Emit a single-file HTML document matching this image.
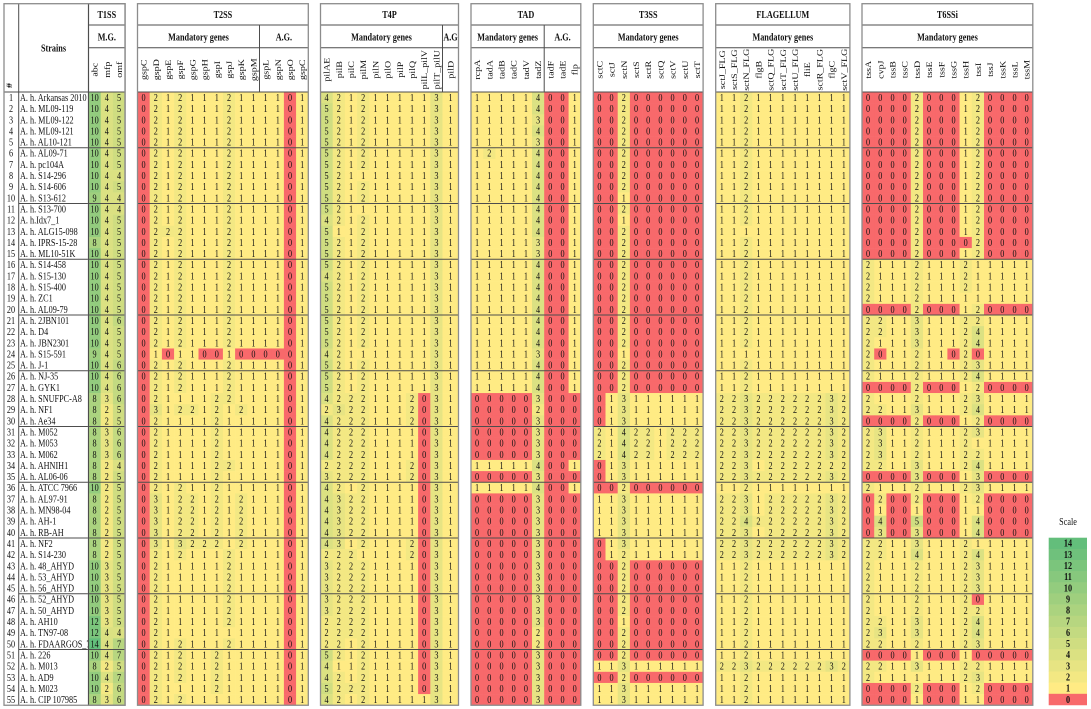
<!DOCTYPE html>
<html lang="en">
<head>
<meta charset="utf-8">
<title>Aeromonas hydrophila secretion system gene heatmap</title>
<style>
html,body{margin:0;padding:0;background:#fff;width:1091px;height:709px;overflow:hidden}
svg{display:block}
text{font-family:"Liberation Serif",serif;font-size:10px;fill:#111}
.b{font-weight:bold}
</style>
</head>
<body>
<svg id="chart" xmlns="http://www.w3.org/2000/svg" width="1091" height="709" viewBox="0 0 1091 709"></svg>
<script>
const strains = ["A. h. Arkansas 2010","A. h. ML09-119","A. h. ML09-122","A. h. ML09-121","A. h. AL10-121","A. h. AL09-71","A. h. pc104A","A. h. S14-296","A. h. S14-606","A. h. S13-612","A. h. S13-700","A. h.Idx7_1","A. h. ALG15-098","A. h. IPRS-15-28","A. h. ML10-51K","A. h. S14-458","A. h. S15-130","A. h. S15-400","A. h. ZC1","A. h. AL09-79","A. h. 2JBN101","A. h. D4","A. h. JBN2301","A. h. S15-591","A. h. J-1","A. h. NJ-35","A. h. GYK1","A. h. SNUFPC-A8","A. h. NF1","A. h. Ae34","A. h. M052","A. h. M053","A. h. M062","A. h. AHNIH1","A. h. AL06-06","A. h. ATCC 7966","A. h. AL97-91","A. h. MN98-04","A. h. AH-1","A. h. RB-AH","A. h. NF2","A. h. S14-230","A. h. 48_AHYD","A. h. 53_AHYD","A. h. 56_AHYD","A. h. 52_AHYD","A. h. 50_AHYD","A. h. AH10","A. h. TN97-08","A. h. FDAARGOS_7","A. h. 226","A. h. M013","A. h. AD9","A. h. M023","A. h. CIP 107985"];
const t1ssGenes = ["abc","mfp","omf"];
const t2ssGenes = ["gspC","gspD","gspE","gspF","gspG","gspH","gspI","gspJ","gspK","gspM","gspL","gspN","gspO","gspC"];
const t4pGenes = ["pilAE","pilB","pilC","pilM","pilN","pilO","pilP","pilQ","pilL_pilV","pilT_pilU","pilD"];
const tadGenes = ["rcpA","tadA","tadB","tadC","tadV","tadZ","tadF","tadE","flp"];
const t3ssGenes = ["sctC","sctJ","sctN","sctS","sctR","sctQ","sctV","sctU","sctT"];
const flagellumGenes = ["sctJ_FLG","sctS_FLG","sctN_FLG","flgB","sctQ_FLG","sctT_FLG","sctU_FLG","fliE","sctR_FLG","flgC","sctV_FLG"];
const t6ssGenes = ["tssA","cvpJ","tssB","tssC","tssD","tssE","tssF","tssG","tssH","tssI","tssJ","tssK","tssL","tssM"];
const scaleValues = [14,13,12,11,10,9,8,7,6,5,4,3,2,1,0];

const t1ssValues = [
[10,4,5],[10,4,5],[10,4,5],[10,4,5],[10,4,5],
[10,4,5],[10,4,5],[10,4,4],[10,4,5],[9,4,4],
[10,4,4],[10,4,5],[10,4,5],[8,4,5],[10,4,5],
[10,4,5],[10,4,5],[10,4,5],[10,4,5],[10,4,5],
[10,4,6],[10,4,5],[10,4,5],[9,4,5],[10,4,6],
[10,4,6],[10,4,6],[8,3,6],[8,2,5],[8,2,5],
[8,3,6],[8,3,6],[8,3,6],[8,2,4],[8,2,5],
[10,2,5],[8,2,5],[8,2,5],[8,2,5],[8,2,5],
[8,2,5],[8,2,5],[10,3,5],[10,3,5],[10,3,5],
[10,3,5],[10,3,5],[12,3,5],[12,4,4],[14,4,7],
[10,4,7],[8,2,5],[10,4,7],[10,2,6],[8,3,6]];

const t2ssValues = [
[0,2,1,2,1,1,1,2,1,1,1,1,0,1],[0,2,1,2,1,1,1,2,1,1,1,1,0,1],[0,2,1,2,1,1,1,2,1,1,1,1,0,1],[0,2,1,2,1,1,1,2,1,1,1,1,0,1],[0,2,1,2,1,1,1,2,1,1,1,1,0,1],
[0,2,1,2,1,1,1,2,1,1,1,1,0,1],[0,2,1,2,1,1,1,2,1,1,1,1,0,1],[0,2,1,2,1,1,1,2,1,1,1,1,0,1],[0,2,1,2,1,1,1,2,1,1,1,1,0,1],[0,2,1,2,1,1,1,2,1,1,1,1,0,1],
[0,2,1,2,1,1,1,2,1,1,1,1,0,1],[0,2,1,2,1,1,1,2,1,1,1,1,0,1],[0,2,2,2,1,1,1,2,1,1,1,1,0,1],[0,2,1,2,1,1,1,2,1,1,1,1,0,1],[0,2,1,2,1,1,1,2,1,1,1,1,0,1],
[0,2,1,2,1,1,1,2,1,1,1,1,0,1],[0,2,1,2,1,1,1,2,1,1,1,1,0,1],[0,2,1,2,1,1,1,2,1,1,1,1,0,1],[0,2,1,2,1,1,1,2,1,1,1,1,0,1],[0,2,1,2,1,1,1,2,1,1,1,1,0,1],
[0,2,1,2,1,1,1,2,1,1,1,1,0,1],[0,2,1,2,1,1,1,2,1,1,1,1,0,1],[0,2,1,2,1,1,1,2,1,1,1,1,0,1],[0,1,0,1,1,0,0,1,0,0,0,0,0,1],[0,2,1,2,1,1,1,2,1,1,1,1,0,1],
[0,2,1,2,1,1,1,2,1,1,1,1,0,1],[0,2,1,2,1,1,1,2,1,1,1,1,0,1],[0,2,1,1,1,1,2,2,1,1,1,1,0,1],[0,3,1,2,2,1,2,1,2,1,1,1,0,1],[0,2,1,1,1,1,2,1,1,1,1,1,0,1],
[0,2,1,1,1,1,2,1,1,1,1,1,0,1],[0,2,1,1,1,1,2,1,1,1,1,1,0,1],[0,2,1,1,1,1,2,1,1,1,1,1,0,1],[0,2,1,1,1,1,2,2,1,1,1,1,0,1],[0,2,1,1,1,1,2,1,1,1,1,1,0,1],
[0,2,1,2,1,1,2,1,1,1,1,1,0,1],[0,3,1,2,2,1,2,1,2,1,1,1,0,1],[0,3,1,2,2,1,2,1,2,1,1,1,0,1],[0,3,1,2,2,1,2,1,2,1,1,1,0,1],[0,3,1,2,2,1,2,1,2,1,1,1,0,1],
[0,3,1,3,2,2,2,1,2,1,1,1,0,1],[0,2,1,2,1,1,1,2,1,1,1,1,0,1],[0,2,1,1,1,1,1,2,1,1,1,1,0,1],[0,2,1,1,1,1,1,2,1,1,1,1,0,1],[0,2,1,1,1,1,1,2,1,1,1,1,0,1],
[0,2,1,1,1,1,1,2,1,1,1,1,0,1],[0,2,1,1,1,1,1,2,1,1,1,1,0,1],[0,2,1,1,1,1,1,2,1,1,1,1,0,1],[0,2,1,1,1,1,1,1,1,1,1,1,0,1],[0,2,1,2,1,1,1,2,1,1,1,1,0,1],
[0,2,1,2,1,1,2,1,1,1,1,1,0,1],[0,2,1,2,1,1,2,1,1,1,1,1,0,1],[0,2,1,2,1,1,2,1,1,1,1,1,0,1],[0,2,1,1,1,1,2,1,1,1,1,1,0,1],[0,2,1,2,1,1,1,1,1,1,1,1,0,1]];

const t4pValues = [
[4,2,1,2,1,1,1,1,1,3,1],[5,2,1,2,1,1,1,1,1,3,1],[5,2,1,2,1,1,1,1,1,3,1],[5,2,1,2,1,1,1,1,1,3,1],[5,2,1,2,1,1,1,1,1,3,1],
[5,2,1,2,1,1,1,1,1,3,1],[5,2,1,2,1,1,1,1,1,3,1],[5,2,1,1,1,1,1,1,1,3,1],[5,2,1,2,1,1,1,1,1,3,1],[5,2,1,2,1,1,1,1,1,3,1],
[5,2,1,1,1,1,1,1,1,3,1],[4,2,1,2,1,1,1,1,1,3,1],[5,1,1,2,1,1,1,1,1,3,1],[5,2,1,2,1,1,1,1,1,3,1],[5,2,1,2,1,1,1,1,1,3,1],
[5,2,1,2,1,1,1,1,1,3,1],[4,2,1,2,1,1,1,1,1,3,1],[5,2,1,2,1,1,1,1,1,3,1],[5,2,1,2,1,1,1,1,1,3,1],[5,2,1,2,1,1,1,1,1,3,1],
[5,2,1,2,1,1,1,1,1,3,1],[5,2,1,2,1,1,1,1,1,3,1],[5,2,1,2,1,1,1,1,1,3,1],[4,2,1,1,1,1,1,1,1,3,1],[5,2,1,2,1,1,1,1,1,3,1],
[5,2,1,2,1,1,1,1,1,3,1],[5,2,1,2,1,1,1,1,1,3,1],[4,2,2,2,1,1,1,2,0,3,1],[2,3,2,2,1,1,1,2,0,3,1],[4,2,2,2,1,1,1,2,0,3,1],
[4,2,2,2,1,1,1,1,0,3,1],[4,2,2,2,1,1,1,1,0,3,1],[4,2,2,2,1,1,1,1,0,3,1],[2,2,2,2,1,1,1,2,0,3,1],[3,2,2,2,1,1,1,2,0,3,1],
[4,2,1,2,1,1,1,1,0,3,1],[4,3,2,2,1,1,1,1,0,3,1],[4,3,2,2,1,1,1,1,0,3,1],[4,3,2,2,1,1,1,1,0,3,1],[4,3,2,2,1,1,1,1,0,3,1],
[4,3,1,2,1,1,1,2,0,3,1],[2,2,2,1,1,1,1,2,0,3,1],[3,2,2,2,1,1,1,1,0,3,1],[3,2,2,2,1,1,1,1,0,3,1],[3,2,2,2,1,1,1,1,0,3,1],
[3,2,2,2,1,1,1,1,0,3,1],[3,2,2,2,1,1,1,1,0,3,1],[2,2,2,2,1,1,1,1,0,3,1],[2,2,2,2,1,1,1,1,0,3,1],[2,2,1,2,1,1,1,1,0,3,1],
[5,2,1,2,1,1,1,1,0,3,1],[4,1,1,2,1,1,1,1,0,3,1],[4,2,1,2,1,1,1,1,0,3,1],[5,2,2,2,1,1,1,1,0,3,1],[4,2,1,2,1,1,1,1,1,3,1]];

const tadValues = [
[1,1,1,1,1,4,0,0,1],[1,1,1,1,1,4,0,0,1],[1,1,1,1,1,3,0,0,1],[1,1,1,1,1,4,0,0,1],[1,1,1,1,1,3,0,0,1],
[1,2,1,1,1,4,0,0,1],[1,1,1,1,1,4,0,0,1],[1,1,1,1,1,4,0,0,1],[1,1,1,1,1,4,0,0,1],[1,1,1,1,1,4,0,0,1],
[1,1,1,1,1,4,0,0,1],[1,1,1,1,1,4,0,0,1],[1,1,1,1,1,4,0,0,1],[1,1,1,1,1,3,0,0,1],[1,1,1,1,1,3,0,0,1],
[1,1,1,1,1,4,0,0,1],[1,1,1,1,1,4,0,0,1],[1,1,1,1,1,4,0,0,1],[1,1,1,1,1,4,0,0,1],[1,1,1,1,1,4,0,0,1],
[1,1,1,1,1,4,0,0,1],[1,1,1,1,1,4,0,0,1],[1,1,1,1,1,4,0,0,1],[1,1,1,1,1,3,0,0,1],[1,1,1,1,1,4,0,0,1],
[1,1,1,1,1,4,0,0,1],[1,1,1,1,1,4,0,0,1],[0,0,0,0,0,3,0,0,0],[0,0,0,0,0,2,0,0,0],[0,0,0,0,0,3,0,0,0],
[0,0,0,0,0,3,0,0,0],[0,0,0,0,0,3,0,0,0],[0,0,0,0,0,3,0,0,0],[1,1,1,1,1,4,0,0,1],[0,0,0,0,0,3,0,0,0],
[1,1,1,1,1,4,0,0,1],[0,0,0,0,0,3,0,0,0],[0,0,0,0,0,3,0,0,0],[0,0,0,0,0,3,0,0,0],[0,0,0,0,0,3,0,0,0],
[0,0,0,0,0,3,0,0,0],[0,0,0,0,0,3,0,0,0],[0,0,0,0,0,3,0,0,0],[0,0,0,0,0,3,0,0,0],[0,0,0,0,0,3,0,0,0],
[0,0,0,0,0,3,0,0,0],[0,0,0,0,0,3,0,0,0],[0,0,0,0,0,3,0,0,0],[0,0,0,0,0,2,0,0,0],[0,0,0,0,0,2,0,0,0],
[0,0,0,0,0,3,0,0,0],[0,0,0,0,0,3,0,0,0],[0,0,0,0,0,3,0,0,0],[0,0,0,0,0,3,0,0,0],[0,0,0,0,0,3,0,0,0]];

const t3ssValues = [
[0,0,2,0,0,0,0,0,0],[0,0,2,0,0,0,0,0,0],[0,0,2,0,0,0,0,0,0],[0,0,2,0,0,0,0,0,0],[0,0,2,0,0,0,0,0,0],
[0,0,2,0,0,0,0,0,0],[0,0,2,0,0,0,0,0,0],[0,0,2,0,0,0,0,0,0],[0,0,2,0,0,0,0,0,0],[0,0,1,0,0,0,0,0,0],
[0,0,2,0,0,0,0,0,0],[0,0,1,0,0,0,0,0,0],[0,0,2,0,0,0,0,0,0],[0,0,2,0,0,0,0,0,0],[0,0,2,0,0,0,0,0,0],
[0,0,2,0,0,0,0,0,0],[0,0,2,0,0,0,0,0,0],[0,0,2,0,0,0,0,0,0],[0,0,2,0,0,0,0,0,0],[0,0,2,0,0,0,0,0,0],
[0,0,2,0,0,0,0,0,0],[0,0,2,0,0,0,0,0,0],[0,0,2,0,0,0,0,0,0],[0,0,1,0,0,0,0,0,0],[0,0,2,0,0,0,0,0,0],
[0,0,2,0,0,0,0,0,0],[0,0,2,0,0,0,0,0,0],[0,1,3,1,1,1,1,1,1],[0,1,3,1,1,1,1,1,1],[0,1,3,1,1,1,1,1,1],
[2,1,4,2,2,1,2,2,2],[2,1,4,2,2,1,2,2,2],[2,1,4,2,2,1,2,2,2],[0,1,3,1,1,1,1,1,1],[0,1,3,1,1,1,1,1,1],
[0,0,2,0,0,0,0,0,0],[1,1,3,1,1,1,1,1,1],[1,1,3,1,1,1,1,1,1],[1,1,3,1,1,1,1,1,1],[1,1,3,1,1,1,1,1,1],
[0,1,3,1,1,1,1,1,1],[0,1,2,1,1,1,1,1,1],[0,0,2,0,0,0,0,0,0],[0,0,2,0,0,0,0,0,0],[0,0,2,0,0,0,0,0,0],
[0,0,2,0,0,0,0,0,0],[0,0,2,0,0,0,0,0,0],[0,0,1,0,0,0,0,0,0],[0,0,2,0,0,0,0,0,0],[0,0,2,0,0,0,0,0,0],
[0,0,2,0,0,0,0,0,0],[1,1,3,1,1,1,1,1,1],[0,0,2,0,0,0,0,0,0],[1,1,3,1,1,1,1,1,1],[1,1,3,1,1,1,1,1,1]];

const flagellumValues = [
[1,1,2,1,1,1,1,1,1,1,1],[1,1,2,1,1,1,1,1,1,1,1],[1,1,2,1,1,1,1,1,1,1,1],[1,1,2,1,1,1,1,1,1,1,1],[1,1,2,1,1,1,1,1,1,1,1],
[1,1,2,1,1,1,1,1,1,1,1],[1,1,2,1,1,1,1,1,1,1,1],[1,1,2,1,1,1,1,1,1,1,1],[1,1,2,1,1,1,1,1,1,1,1],[1,1,2,1,1,1,1,1,1,1,1],
[1,1,2,1,1,1,1,1,1,1,1],[1,1,2,1,1,1,1,1,1,1,1],[1,1,1,1,1,1,1,1,1,1,1],[1,1,2,1,1,1,1,1,1,1,1],[1,1,2,1,1,1,1,1,1,1,1],
[1,1,2,1,1,1,1,1,1,1,1],[1,1,2,1,1,1,1,1,1,1,1],[1,1,2,1,1,1,1,1,1,1,1],[1,1,2,1,1,1,1,1,1,1,1],[1,1,2,1,1,1,1,1,1,1,1],
[1,1,2,1,1,1,1,1,1,1,1],[1,1,2,1,1,1,1,1,1,1,1],[1,1,2,1,1,1,1,1,1,1,1],[1,1,1,1,1,1,1,1,1,1,1],[1,1,2,1,1,1,1,1,1,1,1],
[1,1,2,1,1,1,1,1,1,1,1],[1,1,2,1,1,1,1,1,1,1,1],[2,2,3,2,2,2,2,2,2,3,2],[2,2,3,2,2,2,2,2,2,3,2],[2,2,3,2,2,2,2,2,2,3,2],
[2,2,3,2,2,2,2,2,2,3,2],[2,2,3,2,2,2,2,2,2,3,2],[2,2,3,2,2,2,2,2,2,3,2],[2,2,3,1,2,2,2,2,2,2,2],[2,2,3,2,2,2,2,2,2,3,2],
[1,1,2,1,1,1,1,1,1,1,1],[2,2,3,1,2,2,2,2,2,3,2],[2,2,3,1,2,2,2,2,2,3,2],[2,2,4,2,2,2,2,2,2,3,2],[2,2,3,1,2,2,2,2,2,3,2],
[2,2,3,2,2,2,2,2,2,3,2],[2,2,3,2,2,2,2,2,2,3,2],[1,1,2,1,1,1,1,1,1,1,1],[1,1,2,1,1,1,1,1,1,1,1],[1,1,2,1,1,1,1,1,1,1,1],
[1,1,2,1,1,1,1,1,1,1,1],[1,1,2,1,1,1,1,1,1,1,1],[1,1,2,1,1,1,1,1,1,1,1],[1,1,2,1,1,1,1,1,1,1,1],[1,1,2,1,1,1,1,1,1,1,1],
[1,1,2,1,1,1,1,1,1,1,1],[2,2,3,2,2,2,2,2,2,3,2],[1,1,2,1,1,1,1,1,1,1,1],[1,1,2,1,1,1,1,1,1,1,1],[1,1,2,1,1,1,1,1,1,1,1]];

const t6ssValues = [
[0,0,0,0,2,0,0,0,1,2,0,0,0,0],[0,0,0,0,2,0,0,0,1,2,0,0,0,0],[0,0,0,0,2,0,0,0,1,2,0,0,0,0],[0,0,0,0,2,0,0,0,1,2,0,0,0,0],[0,0,0,0,2,0,0,0,1,2,0,0,0,0],
[0,0,0,0,2,0,0,0,1,2,0,0,0,0],[0,0,0,0,2,0,0,0,1,2,0,0,0,0],[0,0,0,0,2,0,0,0,1,2,0,0,0,0],[0,0,0,0,2,0,0,0,1,2,0,0,0,0],[0,0,0,0,2,0,0,0,1,2,0,0,0,0],
[0,0,0,0,2,0,0,0,1,2,0,0,0,0],[0,0,0,0,2,0,0,0,1,2,0,0,0,0],[0,0,0,0,2,0,0,0,1,2,0,0,0,0],[0,0,0,0,2,0,0,0,0,2,0,0,0,0],[0,0,0,0,2,0,0,0,1,2,0,0,0,0],
[2,1,1,1,2,1,1,1,2,1,1,1,1,1],[2,1,1,1,2,1,1,1,2,1,1,1,1,1],[2,1,1,1,2,1,1,1,2,1,1,1,1,1],[2,1,1,1,2,1,1,1,1,1,1,1,1,1],[0,0,0,0,2,0,0,0,1,2,0,0,0,0],
[2,2,1,1,3,1,1,1,2,2,1,1,1,1],[2,2,1,1,3,1,1,1,2,4,1,1,1,1],[2,1,1,1,3,1,1,1,2,4,1,1,1,1],[2,0,1,1,2,1,1,0,2,0,1,1,1,1],[2,1,1,1,2,1,1,1,2,3,1,1,1,1],
[2,1,1,1,2,1,1,1,2,4,1,1,1,1],[0,0,0,0,2,0,0,0,1,2,0,0,0,0],[2,1,1,1,2,1,1,1,2,3,1,1,1,1],[2,2,1,1,3,1,1,1,2,4,1,1,1,1],[0,0,0,0,2,0,0,0,1,2,0,0,0,0],
[2,3,1,1,2,1,1,1,2,3,1,1,1,1],[2,3,1,1,2,1,1,1,2,1,1,1,1,1],[2,3,1,1,2,1,1,1,2,2,1,1,1,1],[2,2,1,1,3,1,1,1,2,4,1,1,1,1],[0,0,0,0,3,0,0,0,1,3,0,0,0,0],
[2,1,1,1,2,1,1,1,2,3,1,1,1,1],[0,2,0,0,2,0,0,0,1,2,0,0,0,0],[0,1,0,0,1,0,0,0,1,1,0,0,0,0],[0,4,0,0,5,0,0,0,1,4,0,0,0,0],[0,3,0,0,3,0,0,0,1,4,0,0,0,0],
[2,2,1,1,3,1,1,1,2,1,1,1,1,1],[2,2,1,1,4,1,1,1,2,4,1,1,1,1],[2,1,1,1,2,1,1,1,2,3,1,1,1,1],[2,1,1,1,2,1,1,1,2,3,1,1,1,1],[2,1,1,1,2,1,1,1,2,3,1,1,1,1],
[2,1,1,1,2,1,1,1,2,0,1,1,1,1],[2,1,1,1,2,1,1,1,2,2,1,1,1,1],[2,2,1,1,3,1,1,1,2,4,1,1,1,1],[2,3,1,1,3,1,1,1,2,4,1,1,1,1],[2,2,1,1,2,1,1,1,2,3,1,1,1,1],
[0,0,0,0,1,0,0,0,1,0,0,0,0,0],[2,2,1,1,3,1,1,1,2,2,1,1,1,1],[2,1,1,1,1,1,1,1,2,3,1,1,1,1],[0,0,0,0,2,0,0,0,1,2,0,0,0,0],[0,0,0,0,1,0,0,0,1,1,0,0,0,0]];

const svg = document.getElementById('chart');
const NS = 'http://www.w3.org/2000/svg';
const Y_TOP = 3.7, Y_H1 = 25, Y_H2 = 47.7, Y_DATA = 92, ROW_H = 11.15, COL_W = 12.2;
const SQUEEZE = 0.82;
const GRAY = '#8c8c8c', DARK = '#4d4d4d';

function yOf(row) { return Y_DATA + row * ROW_H; }
function colorOf(v) {
  if (v <= 0) return '#f8696b';
  const t = (v - 1) / 13;
  const mix = (a, b) => Math.round(a + (b - a) * t);
  return 'rgb(' + mix(255, 99) + ',' + mix(235, 190) + ',' + mix(132, 123) + ')';
}
function make(tag, parent, attrs) {
  const el = document.createElementNS(NS, tag);
  for (const k in attrs) el.setAttribute(k, attrs[k]);
  parent.appendChild(el);
  return el;
}
function label(parent, str, x, y, opts) {
  opts = opts || {};
  const rot = opts.rotate ? ' rotate(-90)' : '';
  const el = make('text', parent, {
    transform: 'translate(' + x + ',' + y + ') scale(' + SQUEEZE + ',1)' + rot,
    'text-anchor': opts.anchor || 'middle'
  });
  if (opts.bold) el.setAttribute('class', 'b');
  el.textContent = str;
  return el;
}
function rule(parent, x1, y1, x2, y2, color, w) {
  return make('line', parent, { x1: x1, y1: y1, x2: x2, y2: y2, stroke: color, 'stroke-width': w || 1 });
}

/* left-hand id + strain columns */
const idGroup = make('g', svg, {});


const hashLabel = label(idGroup, '#', 12, 88, { rotate: true, anchor: 'start', bold: true });


const strainsLabel = label(idGroup, 'Strains', 53.5, 51.4, { bold: true });


strains.forEach(function (name, r) {
  const num = label(idGroup, String(r + 1), 11, yOf(r) + ROW_H / 2 + 3.4);
  
  
  const st = label(idGroup, name, 20, yOf(r) + ROW_H / 2 + 3.4, { anchor: 'start' });
  
  
});

/* gene panels */
function drawPanel(key, title, left, genes, values, sub1, sub2, split, lastW) {
  const g = make('g', svg, {});
  
  
  const xOf = function (c) { return left + c * COL_W; };
  const wOf = function (c) { return (lastW && c === genes.length - 1) ? lastW : COL_W; };
  const right = xOf(genes.length - 1) + wOf(genes.length - 1);

  values.forEach(function (rowVals, r) {
    rowVals.forEach(function (v, c) {
      const cell = make('rect', g, { x: xOf(c), y: yOf(r), width: wOf(c) + 0.3, height: ROW_H + 0.3, fill: colorOf(v) });
      
      
      const t = label(g, String(v), xOf(c) + wOf(c) / 2, yOf(r) + ROW_H / 2 + 3.4);
      
      
    });
  });
  genes.forEach(function (gene, c) {
    const t = label(g, gene, xOf(c) + wOf(c) / 2 + 3, 69.7, { rotate: true });
    
    
  });
  const splitX = split ? xOf(split) : right;
  const titleEl = label(g, title, (left + right) / 2, 18, { bold: true });
  
  
  const s1 = label(g, sub1, (left + splitX) / 2, 40.4, { bold: true });
  
  
  if (split) {
    const s2 = label(g, sub2, (splitX + right) / 2, 40.4, { bold: true });
    
    
    rule(g, splitX, Y_H1, splitX, Y_DATA, DARK);
  }
  rule(g, left, Y_H1, right, Y_H1, DARK);
  rule(g, left, Y_H2, right, Y_H2, DARK);
  rule(g, left, Y_DATA, right, Y_DATA, DARK);
  for (let k = 5; k < values.length; k += 5) {
    rule(g, key === 't1ss' ? 18.7 : left, yOf(k), right, yOf(k), DARK);
  }
  make('rect', g, { x: left, y: Y_TOP, width: right - left, height: yOf(values.length) - Y_TOP, fill: 'none', stroke: GRAY, 'stroke-width': 1.3 });
}

drawPanel('t1ss', 'T1SS', 88.5, t1ssGenes, t1ssValues, 'M.G.');
drawPanel('t2ss', 'T2SS', 137.5, t2ssGenes, t2ssValues, 'Mandatory genes', 'A.G.', 10);
drawPanel('t4p', 'T4P', 320.5, t4pGenes, t4pValues, 'Mandatory genes', 'A.G', 10, 16);
drawPanel('tad', 'TAD', 471, tadGenes, tadValues, 'Mandatory genes', 'A.G.', 6);
drawPanel('t3ss', 'T3SS', 593.3, t3ssGenes, t3ssValues, 'Mandatory genes');
drawPanel('flagellum', 'FLAGELLUM', 715.7, flagellumGenes, flagellumValues, 'Mandatory genes');
drawPanel('t6ssi', 'T6SSi', 862, t6ssGenes, t6ssValues, 'Mandatory genes');

/* outer frame and verticals of the strain block */
const frame = make('g', svg, {});


rule(frame, 4, Y_DATA, 88.5, Y_DATA, DARK);
rule(frame, 18.7, Y_TOP, 18.7, yOf(55), DARK);
rule(frame, 88.5, Y_TOP, 88.5, yOf(55), DARK);
make('rect', frame, { x: 4, y: Y_TOP, width: 121, height: yOf(55) - Y_TOP, fill: 'none', stroke: GRAY, 'stroke-width': 1.3 });

/* colour scale legend */
const legend = make('g', svg, {});


const legendTitle = label(legend, 'Scale', 1068, 525);


scaleValues.forEach(function (v, i) {
  const y = 537.7 + i * ROW_H;
  const sw = make('rect', legend, { x: 1048.7, y: y, width: 38.3, height: ROW_H + 0.3, fill: colorOf(v) });
  
  
  const t = label(legend, String(v), 1068, y + ROW_H / 2 + 3.4, { bold: true });
  
  
});
</script>
</body>
</html>
